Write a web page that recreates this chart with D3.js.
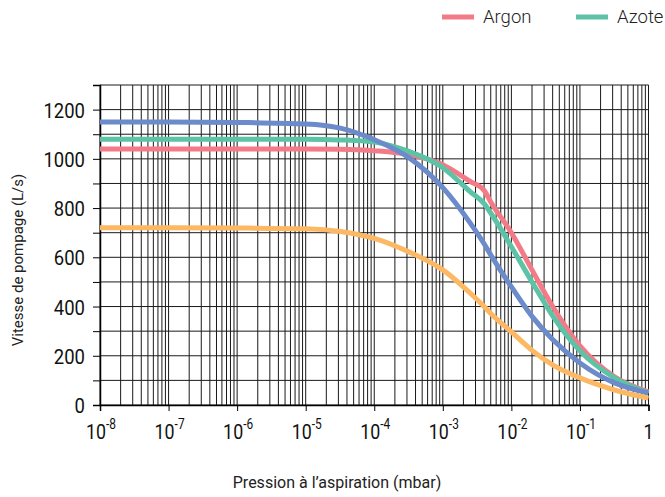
<!DOCTYPE html>
<html>
<head>
<meta charset="utf-8">
<script src="https://cdn.jsdelivr.net/npm/d3@7"></script>
<style>
html,body{margin:0;padding:0;background:#fff;overflow:hidden;}
svg{display:block;font-family:Roboto,"Noto Sans",sans-serif;}
</style>
</head>
<body>
<svg id="chart" width="665" height="497"></svg>
<script>
// ---- data ----
const pressures = [1e-8, 1e-7, 1e-6, 1e-5, 3.2e-5, 1e-4, 3.2e-4, 1e-3, 2.5e-3, 4e-3, 5e-3, 1e-2, 2e-2, 4e-2, 1e-1, 3.2e-1, 1];
const argon     = [1040, 1040, 1040, 1040, 1039, 1033, 1017, 976, 908, 872, 825, 700, 549, 400, 240, 114, 53];
const azote     = [1080, 1080, 1080, 1080, 1077, 1068, 1030, 964, 867, 818, 780, 643, 500, 362, 220, 110, 49];
const helium    = [1150, 1150, 1148, 1142, 1125, 1078, 1005, 883, 740, 655, 610, 480, 360, 266, 171, 90, 49];
const hydrogene = [720, 720, 719, 716, 705, 677, 622, 549, 455, 400, 372, 297, 222, 163, 110, 61, 28];
const seriesNames = ["Argon", "Azote", "Hélium", "Hydrogène"];
const seriesColors = ["#f37b87", "#5cc3a6", "#6b8bca", "#fdb863"];
const seriesValues = [argon, azote, helium, hydrogene];
const xDecades = [-8, -7, -6, -5, -4, -3, -2, -1, 0];
const yTicks = [0, 200, 400, 600, 800, 1000, 1200];
const xTitle = "Pression à l’aspiration (mbar)";
const yTitle = "Vitesse de pompage (L/s)";

// ---- layout ----
const W = 665;
const svg = d3.select("#chart");
const L = 100, R = 648.5, T = 85, B = 405;
const x = d3.scaleLog().domain([1e-8, 1]).range([L, R]);
const y = d3.scaleLinear().domain([0, 1300]).range([B, T]);

// grid
const vGrid = [];
for (let e = -8; e < 0; e++) for (let k = 1; k <= 9; k++) vGrid.push(k * Math.pow(10, e));
vGrid.push(1);
const grid = svg.append("g");
grid.selectAll("line.v").data(vGrid).join("line")
  .attr("x1", d => x(d)).attr("x2", d => x(d)).attr("y1", T).attr("y2", B)
  .attr("stroke", "#1a1a1a").attr("stroke-width", 1);
grid.selectAll("line.h").data(d3.range(0, 1301, 100)).join("line")
  .attr("x1", L).attr("x2", R).attr("y1", d => y(d)).attr("y2", d => y(d))
  .attr("stroke", "#1a1a1a").attr("stroke-width", 1);

// axes
const yAxis = d3.axisLeft(y).tickValues(d3.range(0, 1301, 100)).tickSize(7).tickPadding(0)
  .tickFormat(d => yTicks.includes(d) ? d : "");
const gy = svg.append("g").attr("transform", `translate(${L},0)`).call(yAxis);
gy.select(".domain").attr("stroke", "#000").attr("stroke-width", 1.5);
gy.selectAll(".tick line").attr("stroke", "#000");
gy.selectAll(".tick text").attr("font-size", 21).attr("fill", "#111")
  .attr("font-family", "Roboto").attr("x", 0).attr("dy", "0.36em")
  .attr("transform", "translate(-15,0) scale(0.88,1)");

const xAxis = d3.axisBottom(x).tickValues(xDecades.map(e => Math.pow(10, e))).tickSize(6).tickFormat("");
const gx = svg.append("g").attr("transform", `translate(0,${B})`).call(xAxis);
gx.select(".domain").attr("stroke", "#000").attr("stroke-width", 1.5);
gx.selectAll(".tick line").attr("stroke", "#000");

// x tick labels (10^n)
const xl = svg.append("g").attr("font-size", 21).attr("fill", "#111");
xDecades.forEach(e => {
  const t = xl.append("text")
    .attr("text-anchor", "middle")
    .attr("transform", `translate(${x(Math.pow(10, e)) + (e === 0 ? 0 : 1)},439) scale(0.85,1)`);
  if (e === 0) { t.text("1"); }
  else {
    t.append("tspan").text("10");
    t.append("tspan").attr("font-size", 14).attr("dy", -10).text(String(e));
  }
});

// lines
const line = d3.line().x(d => x(d[0])).y(d => y(d[1])).curve(d3.curveMonotoneX);
seriesValues.forEach((vals, i) => {
  svg.append("path")
    .datum(pressures.map((p, j) => [p, vals[j]]))
    .attr("d", line)
    .attr("fill", "none")
    .attr("stroke", seriesColors[i])
    .attr("stroke-width", 5)
    .attr("stroke-linejoin", "round")
    .attr("stroke-linecap", "butt");
});

// titles
svg.append("text").attr("x", 337).attr("y", 488).attr("text-anchor", "middle")
  .attr("font-size", 16).attr("fill", "#222").text(xTitle);
svg.append("text").attr("transform", "translate(23,260) rotate(-90)").attr("text-anchor", "middle")
  .attr("font-size", 15).attr("fill", "#222").text(yTitle);

// legend (entries continue past the right edge; only those that start inside are drawn)
const lgX = 442, lgStep = 134;
const lg = svg.append("g").attr("transform", `translate(${lgX},17)`);
seriesNames.forEach((n, i) => {
  if (lgX + i * lgStep + 41 >= W) return;
  const g = lg.append("g").attr("transform", `translate(${i * lgStep},0)`);
  g.append("line").attr("x1", 0).attr("x2", 32).attr("y1", 0).attr("y2", 0)
    .attr("stroke", seriesColors[i]).attr("stroke-width", 5);
  g.append("text").attr("x", 41).attr("y", 0).attr("dy", "0.35em")
    .attr("font-size", 18.5).attr("font-weight", 300).attr("fill", "#222").text(n);
});
</script>
</body>
</html>
